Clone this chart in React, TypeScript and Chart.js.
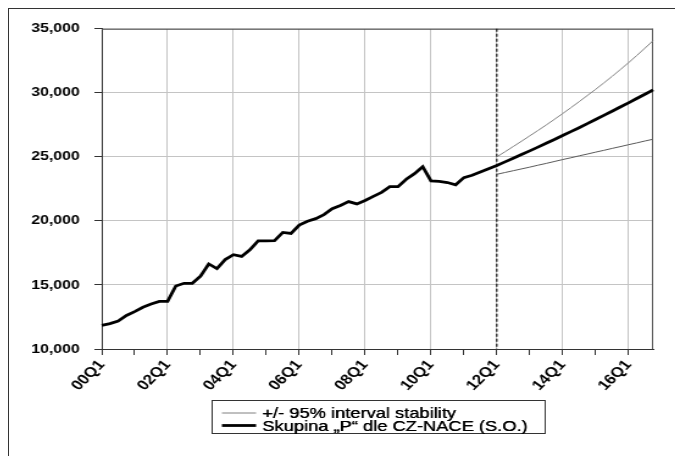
import React, { useEffect, useRef } from 'react';
import { Chart, registerables } from 'chart.js';
Chart.register(...registerables);

// ---- data ----
const YEARS = ['00', '01', '02', '03', '04', '05', '06', '07', '08', '09', '10', '11', '12', '13', '14', '15', '16'];
const QUARTERS = ['Q1', 'Q2', 'Q3', 'Q4'];
const LABELS: string[] = YEARS.flatMap((y) => QUARTERS.map((q) => y + q));

// observed series 00Q1 .. 12Q1
const ACTUAL = [
  11850, 11980, 12180, 12620, 12920, 13260, 13510, 13720,
  13720, 14920, 15130, 15130, 15690, 16640, 16280, 16980,
  17360, 17230, 17740, 18440, 18440, 18460, 19100, 19020,
  19670, 19980, 20180, 20490, 20950, 21210, 21510, 21330,
  21590, 21920, 22230, 22670, 22670, 23250, 23690, 24230,
  23130, 23080, 23000, 22820, 23380, 23560, 23820, 24080,
  24330,
];
// forecast 12Q2 .. 16Q4
const FORECAST = [
  24610, 24890, 25180, 25470, 25760, 26060, 26360, 26670, 26970, 27280,
  27600, 27920, 28240, 28560, 28890, 29220, 29560, 29890, 30230,
];
// 95% band 12Q1 .. 16Q4
const UPPER = [
  25000, 25400, 25810, 26220, 26640, 27060, 27490, 27930, 28380, 28840,
  29310, 29790, 30270, 30770, 31280, 31810, 32350, 32910, 33490, 34080,
];
const LOWER = [
  23640, 23780, 23920, 24060, 24200, 24350, 24490, 24640, 24790, 24930,
  25080, 25220, 25370, 25510, 25660, 25800, 25950, 26090, 26240, 26380,
];
const FORECAST_START = 48; // 12Q1
const Y_MIN = 10000;
const Y_MAX = 35000;
const Y_STEP = 5000;
const LEGEND_BAND = '+/- 95% interval stability';
const LEGEND_MAIN = 'Skupina \u201EP\u201C dle CZ-NACE (S.O.)';

const FONT = '"Liberation Sans", Arial, sans-serif';
const SX = 1.22; // horizontal stretch of the picture
const CW = 552;
const CH = 447;

const framePlugin = {
  id: 'frame',
  beforeDatasetsDraw(chart: any) {
    const { ctx, chartArea: a, scales } = chart;
    ctx.save();
    ctx.strokeStyle = '#555';
    ctx.lineWidth = 1;
    ctx.beginPath();
    ctx.moveTo(a.left, a.top + 0.5);
    ctx.lineTo(a.right, a.top + 0.5);
    ctx.moveTo(a.right - 0.5, a.top);
    ctx.lineTo(a.right - 0.5, a.bottom);
    ctx.stroke();
    const x = scales.x.getPixelForValue(FORECAST_START);
    ctx.strokeStyle = '#111';
    ctx.lineWidth = 1.2;
    ctx.setLineDash([3, 2]);
    ctx.beginPath();
    ctx.moveTo(x, a.top);
    ctx.lineTo(x, a.bottom);
    ctx.stroke();
    ctx.restore();
  },
};

const legendPlugin = {
  id: 'boxLegend',
  afterDraw(chart: any) {
    const { ctx, chartArea: a } = chart;
    const ds = chart.data.datasets;
    const items = [ds[0], ds[2]];
    const w = 273;
    const h = 33;
    const x0 = Math.round((a.left + a.right) / 2 - w / 2) + 0.5;
    const y0 = Math.round(a.bottom + 51) + 0.5;
    ctx.save();
    ctx.fillStyle = '#fff';
    ctx.fillRect(x0, y0, w, h);
    ctx.strokeStyle = '#333';
    ctx.lineWidth = 1;
    ctx.strokeRect(x0, y0, w, h);
    ctx.font = `15px ${FONT}`;
    ctx.textAlign = 'left';
    ctx.textBaseline = 'alphabetic';
    items.forEach((d: any, i: number) => {
      const ly = y0 + 12.5 + i * 12.5;
      ctx.strokeStyle = d.borderColor;
      ctx.lineWidth = d.borderWidth;
      ctx.beginPath();
      ctx.moveTo(x0 + 8, ly);
      ctx.lineTo(x0 + 36, ly);
      ctx.stroke();
      ctx.fillStyle = '#000';
      ctx.fillText(d.label, x0 + 41, y0 + 17.5 + i * 12.5);
      ctx.fillText(d.label, x0 + 41.3, y0 + 17.5 + i * 12.5);
    });
    ctx.restore();
  },
};

export default function App() {
  const ref = useRef<HTMLCanvasElement>(null);
  useEffect(() => {
    const lead = (n: number) => Array(n).fill(null);
    const chart = new Chart(ref.current as HTMLCanvasElement, {
      type: 'line',
      data: {
        labels: LABELS,
        datasets: [
          {
            label: LEGEND_BAND,
            data: lead(FORECAST_START).concat(UPPER),
            borderColor: '#808080',
            borderWidth: 1,
            pointRadius: 0,
            fill: false,
            tension: 0,
          },
          {
            label: '',
            data: lead(FORECAST_START).concat(LOWER),
            borderColor: '#5a5a5a',
            borderWidth: 1,
            pointRadius: 0,
            fill: false,
            tension: 0,
          },
          {
            label: LEGEND_MAIN,
            data: ACTUAL.concat(FORECAST),
            borderColor: '#000',
            borderWidth: 2.8,
            pointRadius: 0,
            fill: false,
            tension: 0,
          },
        ],
      },
      options: {
        responsive: false,
        animation: false,
        devicePixelRatio: 1,
        layout: { padding: { left: 0, right: 24, top: 15, bottom: 0 } },
        plugins: { legend: { display: false }, tooltip: { enabled: false } },
        scales: {
          x: {
            type: 'category',
            offset: false,
            grid: {
              color: (c: any) => (c.index % 8 === 0 ? '#c4c4c4' : 'rgba(0,0,0,0)'),
              tickColor: (c: any) => (c.index % 4 === 0 ? '#333' : 'rgba(0,0,0,0)'),
              tickLength: 6,
              lineWidth: 1,
            },
            border: { color: '#333', width: 1 },
            ticks: {
              autoSkip: false,
              maxRotation: 50,
              minRotation: 50,
              padding: 2,
              color: '#000',
              font: { family: FONT, size: 14, weight: 'bold' },
              callback: (_v: any, i: number) => (i % 8 === 0 ? LABELS[i] : ''),
            },
            afterFit: (s: any) => {
              s.height = 107;
            },
          },
          y: {
            min: Y_MIN,
            max: Y_MAX,
            grid: { color: '#c4c4c4', tickColor: '#333', tickLength: 6 },
            border: { color: '#333', width: 1 },
            ticks: {
              stepSize: Y_STEP,
              padding: 12,
              color: '#000',
              font: { family: FONT, size: 13, weight: 'bold' },
              callback: (v: any) => Number(v).toLocaleString('en-US'),
            },
            afterFit: (s: any) => {
              s.width = 76;
            },
          },
        },
      },
      plugins: [framePlugin, legendPlugin],
    });
    return () => chart.destroy();
  }, []);

  return (
    <div
      style={{
        position: 'relative',
        width: 675,
        height: 448,
        boxSizing: 'border-box',
        borderTop: '1px solid #333',
        borderLeft: '1px solid #333',
        overflow: 'hidden',
        background: '#fff',
      }}
    >
      <div
        style={{
          position: 'absolute',
          left: 0,
          top: 0,
          width: CW,
          height: CH,
          transform: `scaleX(${SX})`,
          transformOrigin: '0 0',
        }}
      >
        <canvas ref={ref} width={CW} height={CH} style={{ display: 'block' }} />
      </div>
    </div>
  );
}
